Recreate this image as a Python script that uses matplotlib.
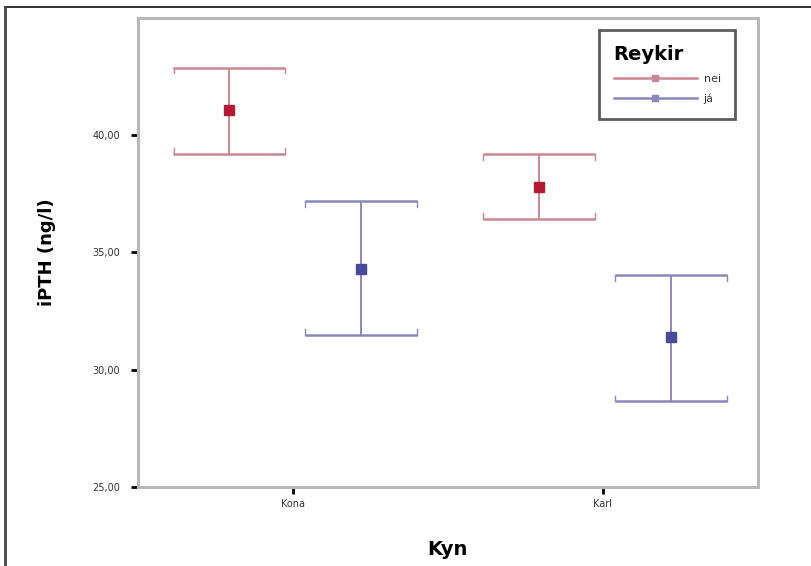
import numpy as np
import matplotlib
import matplotlib.pyplot as plt
from matplotlib.lines import Line2D

matplotlib.use('Agg')

# Data
categories = ['Kona', 'Karl']
groups = ['nei', 'já']
means = {'nei': [41.06, 37.79], 'já': [34.28, 31.38]}
upper = {'nei': [42.89, 39.19], 'já': [37.21, 34.02]}
lower = {'nei': [39.19, 36.43], 'já': [31.47, 28.64]}
yticks = [25, 30, 35, 40]
ytick_labels = ['25,00', '30,00', '35,00', '40,00']

line_colors = {'nei': '#c98890', 'já': '#8888bc'}
marker_colors = {'nei': '#b41a36', 'já': '#4a4a9c'}
offsets = {'nei': -0.205, 'já': 0.22}

fig = plt.figure(figsize=(8.12, 5.66), dpi=100)
ax = fig.add_axes([0.170, 0.140, 0.763, 0.828])

x = np.arange(len(categories))
for g in groups:
    xs = x + offsets[g]
    m = np.array(means[g])
    yerr = [m - np.array(lower[g]), np.array(upper[g]) - m]
    ax.errorbar(xs, m, yerr=yerr, fmt='none', ecolor=line_colors[g],
                elinewidth=1.4, capsize=40, capthick=1.8, zorder=2)
    # small end ticks on the caps
    for xi, lo, hi in zip(xs, lower[g], upper[g]):
        for xe in (xi - 0.18, xi + 0.18):
            ax.plot([xe, xe], [hi, hi - 0.25], color=line_colors[g], lw=1.0, zorder=2)
            ax.plot([xe, xe], [lo, lo + 0.25], color=line_colors[g], lw=1.0, zorder=2)
    ax.plot(xs, m, 's', color=marker_colors[g], markersize=7, zorder=3)

ax.set_xlim(-0.5, 1.5)
ax.set_ylim(25, 45)
ax.set_yticks(yticks)
ax.set_yticklabels(ytick_labels, fontsize=7, color='#333333')
ax.set_xticks(x)
ax.set_xticklabels(categories, fontsize=7, color='#333333')
ax.tick_params(axis='both', direction='out', length=5, width=2, color='black')
ax.tick_params(axis='y', pad=8)
ax.tick_params(axis='x', pad=4)

for s in ax.spines.values():
    s.set_color('#b8b8b8')
    s.set_linewidth(2.2)

ax.set_ylabel('iPTH (ng/l)', fontsize=13, fontweight='bold', labelpad=26)
ax.set_xlabel('Kyn', fontsize=14, fontweight='bold', labelpad=22)

handles = [Line2D([0], [0], color=line_colors[g], lw=1.8, marker='s', markersize=5,
                  markerfacecolor=line_colors[g], markeredgecolor=line_colors[g])
           for g in groups]
leg = ax.legend(handles, groups, title='Reykir', loc='upper right',
                bbox_to_anchor=(0.973, 0.986), fontsize=8, frameon=True,
                fancybox=False, handlelength=7.5, handletextpad=0.6,
                borderpad=1.3, labelspacing=0.9, alignment='left')
for t in leg.get_texts():
    t.set_color('#333333')
leg.get_title().set_fontweight('bold')
leg.get_title().set_fontsize(14)
leg.get_frame().set_edgecolor('#333333')
leg.get_frame().set_linewidth(2)

# outer frame lines (top and left) of the original figure
fig.add_artist(Line2D([0.006, 1.0], [0.988, 0.988], color='#222222', lw=1.3))
fig.add_artist(Line2D([0.006, 0.006], [0.0, 0.988], color='#444444', lw=2))

fig.savefig('out.png', dpi=100)
